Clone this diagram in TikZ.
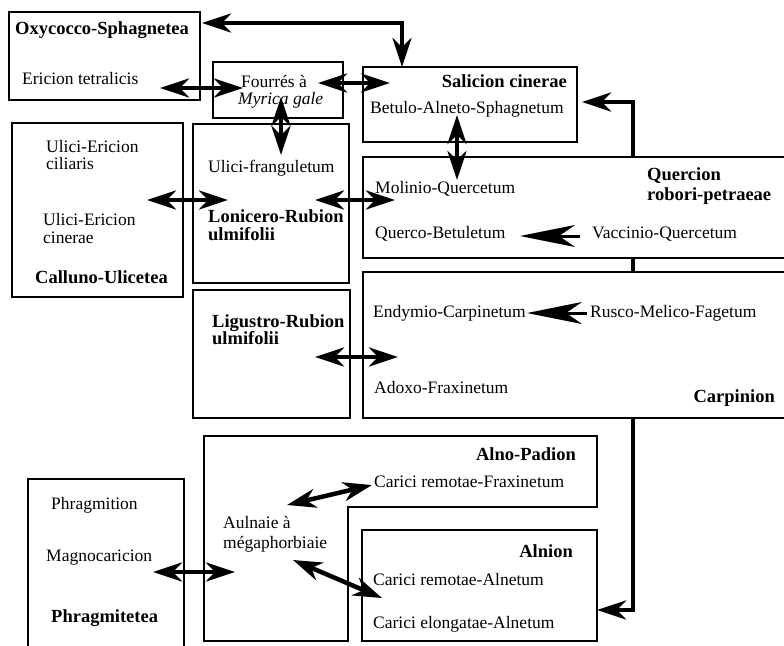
\documentclass[tikz,border=0pt]{standalone}
\usepackage{fontspec}
\setmainfont{Liberation Serif}
\usetikzlibrary{arrows.meta}
\tikzset{
  box/.style={draw, line width=2.2pt, fill=white, inner sep=0pt},
  txt/.style={inner sep=0pt, anchor=base west, font=\fontsize{17.5}{20}\selectfont},
  btxt/.style={txt, font=\fontsize{18.5}{21}\selectfont\bfseries},
  bigtip/.tip={Stealth[length=29pt,width=19pt,inset=9pt]},
  dbl/.style={line width=4.5pt, bigtip-bigtip},
  lng/.style={line width=3pt, -{Stealth[length=55pt,width=22pt,inset=16pt]}},
}
\begin{document}
\begin{tikzpicture}[x=1pt,y=-1pt]
\useasboundingbox (0,0) rectangle (784,645);
\begin{scope}
\clip (0,0) rectangle (784,645);
% loop connector on the right, behind the boxes
\coordinate (salR) at (582,102);
\coordinate (alnR) at (597,610);
\coordinate (kA) at (633,102);
\coordinate (kB) at (633,610);
\draw[dbl] (salR) -- (kA) -- (kB) -- (alnR);
% boxes
\node[box, minimum width=191pt, minimum height=88pt] (oxy) at (104.5,56) {};
\node[box, minimum width=130pt, minimum height=56pt] (four) at (278,90) {};
\node[box, minimum width=214pt, minimum height=75pt] (sal) at (470,104.5) {};
\node[box, minimum width=171pt, minimum height=174pt] (cal) at (97.5,210) {};
\node[box, minimum width=156pt, minimum height=159pt] (lon) at (271,203.5) {};
\node[box, minimum width=437pt, minimum height=101pt] (que) at (581.5,207.5) {};
\node[box, minimum width=157pt, minimum height=128pt] (lig) at (271.5,354) {};
\node[box, minimum width=437pt, minimum height=146pt] (car) at (581.5,345) {};
\draw[line width=2.2pt, fill=white] (204,641) -- (204,436) -- (597,436) -- (597,507) -- (348,507) -- (348,641) -- cycle;
\node[box, minimum width=235pt, minimum height=111pt] (aln) at (479.5,585.5) {};
\node[box, minimum width=156pt, minimum height=181pt] (phr) at (106,569.5) {};
% connectors
\coordinate (oxyR) at (202,23);
\coordinate (salT) at (402,67);
\draw[dbl] (oxyR) -| (salT);
\coordinate (eriE) at (160,88);
\coordinate (fouW) at (243,88);
\draw[dbl] (eriE) -- (fouW);
\coordinate (fouE) at (318,83);
\coordinate (salW) at (390,83);
\draw[dbl] (fouE) -- (salW);
\coordinate (fouS) at (281,97);
\coordinate (lonN) at (281,155);
\draw[dbl] (fouS) -- (lonN);
\coordinate (calE) at (147,200);
\coordinate (lonW) at (228,200);
\draw[dbl] (calE) -- (lonW);
\coordinate (lonE) at (315,200);
\coordinate (queW) at (395,200);
\draw[dbl] (lonE) -- (queW);
\coordinate (salS) at (457,115);
\coordinate (queN) at (457,180);
\draw[dbl] (salS) -- (queN);
\coordinate (vacW) at (580,236);
\coordinate (qbE) at (520,236);
\draw[lng] (vacW) -- (qbE);
\coordinate (rusW) at (587,313);
\coordinate (endE) at (527,313);
\draw[lng] (rusW) -- (endE);
\coordinate (ligE) at (315,357);
\coordinate (carW) at (398,357);
\draw[dbl] (ligE) -- (carW);
\coordinate (aulA) at (287,505);
\coordinate (frxW) at (372,485);
\draw[dbl] (aulA) -- (frxW);
\coordinate (aulB) at (293,560);
\coordinate (alnW) at (382,598);
\draw[dbl] (aulB) -- (alnW);
\coordinate (phrE) at (153,572);
\coordinate (aulW) at (235,572);
\draw[dbl] (phrE) -- (aulW);
% texts
\node[btxt] (t1) at (15,34) {Oxycocco-Sphagnetea};
\node[txt] (t2) at (22,84) {Ericion tetralicis};
\node[txt] (t3) at (241,87) {Fourrés à};
\node[txt] (t4) at (238,104) {\itshape Myrica gale};
\node[btxt, anchor=base east] (t5) at (567,87) {Salicion cinerae};
\node[txt] (t6) at (370,113) {Betulo-Alneto-Sphagnetum};
\node[txt] (t7) at (46,152) {Ulici-Ericion};
\node[txt] (t8) at (46,169) {ciliaris};
\node[txt] (t9) at (43,225) {Ulici-Ericion};
\node[txt] (t10) at (43,243) {cinerae};
\node[btxt] (t11) at (35,283) {Calluno-Ulicetea};
\node[txt] (t12) at (208,172) {Ulici-franguletum};
\node[btxt] (t13) at (208,222) {Lonicero-Rubion};
\node[btxt] (t14) at (208,240) {ulmifolii};
\node[txt] (t15) at (375,193) {Molinio-Quercetum};
\node[btxt] (t16) at (647,180) {Quercion};
\node[btxt] (t17) at (647,200) {robori-petraeae};
\node[txt] (t18) at (375,238) {Querco-Betuletum};
\node[txt] (t19) at (592,238) {Vaccinio-Quercetum};
\node[btxt] (t20) at (212,327) {Ligustro-Rubion};
\node[btxt] (t21) at (212,344) {ulmifolii};
\node[txt] (t22) at (373,317) {Endymio-Carpinetum};
\node[txt] (t23) at (590,317) {Rusco-Melico-Fagetum};
\node[txt] (t24) at (374,393) {Adoxo-Fraxinetum};
\node[btxt, anchor=base east] (t25) at (775,402) {Carpinion};
\node[btxt, anchor=base east] (t26) at (576,460) {Alno-Padion};
\node[txt] (t27) at (374,487) {Carici remotae-Fraxinetum};
\node[txt] (t28) at (223,528) {Aulnaie à};
\node[txt] (t29) at (223,548) {mégaphorbiaie};
\node[btxt, anchor=base east] (t30) at (573,557) {Alnion};
\node[txt] (t31) at (373,585) {Carici remotae-Alnetum};
\node[txt] (t32) at (373,628) {Carici elongatae-Alnetum};
\node[txt] (t33) at (51,509) {Phragmition};
\node[txt] (t34) at (46,561) {Magnocaricion};
\node[btxt] (t35) at (51,622) {Phragmitetea};
\end{scope}
\end{tikzpicture}
\end{document}
